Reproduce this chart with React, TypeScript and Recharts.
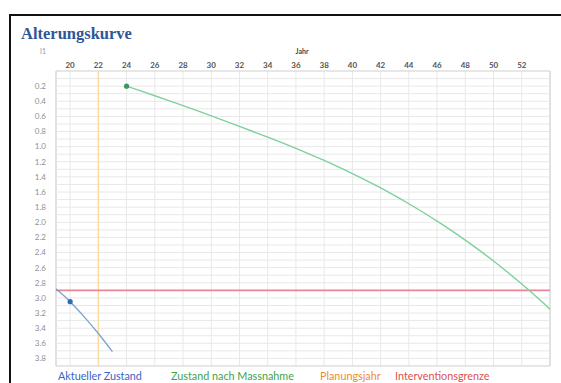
import React from 'react';
import { LineChart, Line, XAxis, YAxis, CartesianGrid, ReferenceLine, ReferenceArea } from 'recharts';

// ---- data ----
const currentYears = [19, 20, 21, 22, 23];
const currentValues = [2.88, 3.05, 3.25, 3.47, 3.71];
const currentMarkerYears = [20];

const afterYears = [24, 25, 26, 27, 28, 29, 30, 31, 32, 33, 34, 35, 36, 37, 38, 39, 40, 41, 42, 43, 44, 45, 46, 47, 48, 49, 50, 51, 52, 53, 54];
const afterValues = [0.2, 0.263, 0.327, 0.392, 0.458, 0.525, 0.593, 0.662, 0.732, 0.803, 0.875, 0.948, 1.023, 1.101, 1.182, 1.267, 1.356, 1.449, 1.546, 1.648, 1.755, 1.867, 1.984, 2.107, 2.236, 2.371, 2.512, 2.66, 2.815, 2.978, 3.149];
const afterMarkerYears = [24];

const xTicks = [20, 22, 24, 26, 28, 30, 32, 34, 36, 38, 40, 42, 44, 46, 48, 50, 52];
const xMinorTicks = [19, 20, 21, 22, 23, 24, 25, 26, 27, 28, 29, 30, 31, 32, 33, 34, 35, 36, 37, 38, 39, 40, 41, 42, 43, 44, 45, 46, 47, 48, 49, 50, 51, 52, 53, 54];
const yTicks = [0.2, 0.4, 0.6, 0.8, 1.0, 1.2, 1.4, 1.6, 1.8, 2.0, 2.2, 2.4, 2.6, 2.8, 3.0, 3.2, 3.4, 3.6, 3.8];
const yMinorTicks = [0.1, 0.2, 0.3, 0.4, 0.5, 0.6, 0.7, 0.8, 0.9, 1.0, 1.1, 1.2, 1.3, 1.4, 1.5, 1.6, 1.7, 1.8, 1.9, 2.0, 2.1, 2.2, 2.3, 2.4, 2.5, 2.6, 2.7, 2.8, 2.9, 3.0, 3.1, 3.2, 3.3, 3.4, 3.5, 3.6, 3.7, 3.8];
const xDomain = [19, 54];
const yDomain = [0, 3.9];

const planningYear = 22;
const interventionLimit = 2.9;

const title = 'Alterungskurve';
const xAxisTitle = 'Jahr';
const yAxisTitle = 'I1';
const legendLabels = ['Aktueller Zustand', 'Zustand nach Massnahme', 'Planungsjahr', 'Interventionsgrenze'];

// ---- table ----
const data = xMinorTicks.map((year) => {
  const ci = currentYears.indexOf(year);
  const ai = afterYears.indexOf(year);
  return {
    year,
    current: ci >= 0 ? currentValues[ci] : null,
    after: ai >= 0 ? afterValues[ai] : null,
  };
});

const FONT = 'Lato, "Open Sans", sans-serif';
const GRID = '#e8e8e8';

const makeDot = (years: number[], color: string) => (props: any) => {
  const { cx, cy, payload, index } = props;
  if (cx == null || cy == null || !payload || !years.includes(payload.year)) {
    return <g key={`d-${index}`} />;
  }
  return <circle key={`d-${index}`} cx={cx} cy={cy} r={2.6} fill={color} stroke="none" />;
};

const legendColors = ['#3d5fc9', '#3ea34f', '#f28a2e', '#d9534f'];
const legendLefts = [58, 171, 320, 395];

export default function App() {
  return (
    <div style={{ position: 'fixed', left: 0, top: 0, width: 561, height: 383, overflow: 'hidden', background: '#fff' }}>
      <div
        style={{
          position: 'absolute',
          left: 9,
          top: 14,
          width: 620,
          height: 420,
          border: '2px solid #111',
          boxSizing: 'border-box',
        }}
      />
      <div
        style={{
          position: 'absolute',
          left: 21,
          top: 25,
          fontFamily: '"Liberation Serif", "DejaVu Serif", serif',
          fontWeight: 'bold',
          fontSize: 16.5,
          color: '#2f5696',
          lineHeight: '18px',
        }}
      >
        {title}
      </div>
      <div style={{ position: 'absolute', left: 40, top: 47, fontFamily: FONT, fontSize: 7, color: '#999' }}>{yAxisTitle}</div>
      <div
        style={{
          position: 'absolute',
          left: 292,
          width: 20,
          textAlign: 'center',
          top: 47,
          fontFamily: FONT,
          fontSize: 7,
          fontWeight: 'bold',
          color: '#444',
        }}
      >
        {xAxisTitle}
      </div>
      <div style={{ position: 'absolute', left: 0, top: 0 }}>
        <LineChart width={561} height={383} data={data} margin={{ top: 51, right: 11, bottom: 17, left: 10 }}>
          <XAxis xAxisId="minor" dataKey="year" type="number" domain={xDomain} ticks={xMinorTicks} hide />
          <CartesianGrid xAxisId="minor" horizontal={false} stroke={GRID} strokeWidth={1} />
          {yMinorTicks.map((v) => (
            <ReferenceLine key={`h-${v}`} y={v} stroke={GRID} strokeWidth={1} />
          ))}
          <XAxis
            dataKey="year"
            type="number"
            orientation="top"
            domain={xDomain}
            ticks={xTicks}
            height={20}
            axisLine={false}
            tickLine={false}
            tickSize={3}
            tickMargin={0}
            tick={{ fontSize: 8, fill: '#555', fontWeight: 'bold', fontFamily: FONT }}
          />
          <YAxis
            type="number"
            domain={yDomain}
            ticks={yTicks}
            reversed
            width={46}
            axisLine={false}
            tickLine={false}
            tickSize={6}
            tickMargin={4}
            tickFormatter={(v: number) => v.toFixed(1)}
            tick={{ fontSize: 8, fill: '#8f8f8f', fontFamily: FONT }}
          />
          <ReferenceArea x1={xDomain[0]} x2={xDomain[1]} y1={yDomain[0]} y2={yDomain[1]} fill="none" stroke="#cfcfcf" strokeWidth={1} ifOverflow="visible" />
          <ReferenceLine x={planningYear} stroke="#fddca0" strokeWidth={1.5} />
          <ReferenceLine y={interventionLimit} stroke="#ee8595" strokeWidth={1.6} />
          <Line
            type="monotone"
            dataKey="current"
            stroke="#78a4d0"
            strokeWidth={1.3}
            dot={makeDot(currentMarkerYears, '#2f6db3')}
            activeDot={false}
            isAnimationActive={false}
          />
          <Line
            type="monotone"
            dataKey="after"
            stroke="#7fd09d"
            strokeWidth={1.4}
            dot={makeDot(afterMarkerYears, '#3d9a5e')}
            activeDot={false}
            isAnimationActive={false}
          />
        </LineChart>
      </div>
      {legendLabels.map((label, i) => (
        <div
          key={label}
          style={{
            position: 'absolute',
            left: legendLefts[i],
            top: 369,
            fontFamily: FONT,
            fontSize: 10.8,
            lineHeight: '14px',
            color: legendColors[i],
            whiteSpace: 'nowrap',
          }}
        >
          {label}
        </div>
      ))}
    </div>
  );
}
